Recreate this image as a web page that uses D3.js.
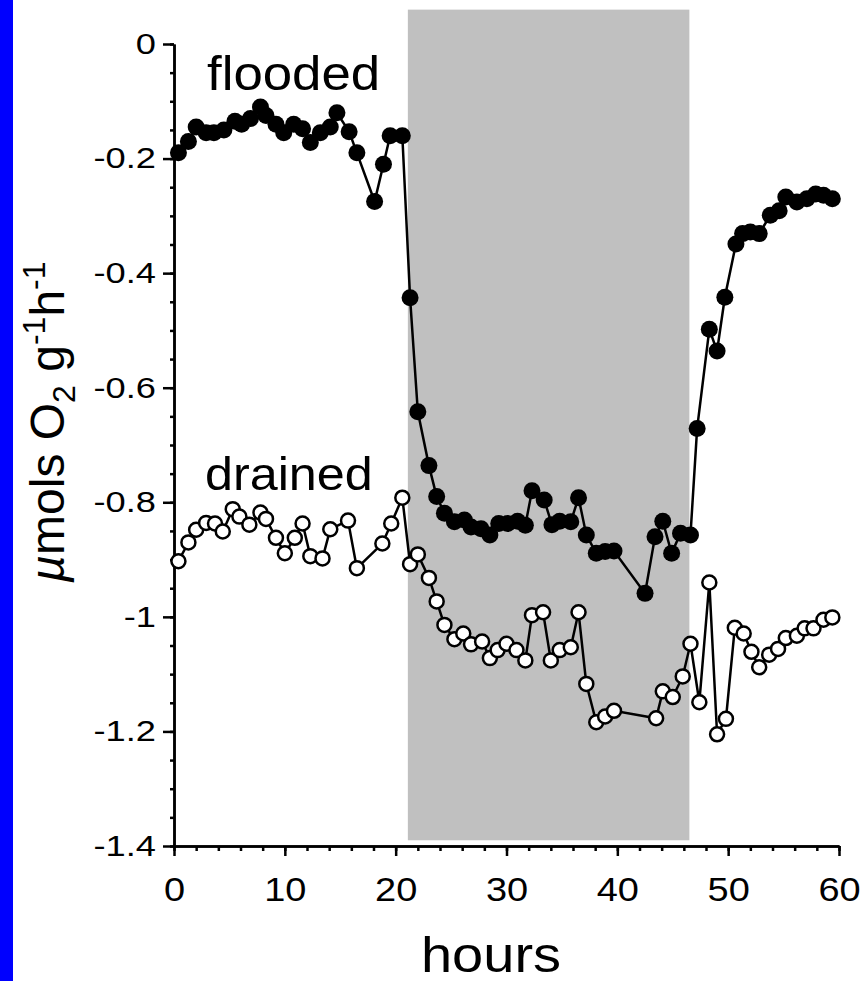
<!DOCTYPE html>
<html>
<head>
<meta charset="utf-8">
<script src="https://cdn.jsdelivr.net/npm/d3@7"></script>
<style>
  body { margin: 0; background: #fff; }
  text { font-family: 'Liberation Sans', Arial, sans-serif; fill: #000; }
</style>
</head>
<body>
<script>
// flooded soil: hours and O2 uptake
let floodedHours = [0.4, 1.3, 2.0, 2.9, 3.6, 4.5, 5.5, 6.1, 6.9, 7.8, 8.3, 9.2, 9.9, 10.8, 11.6,
  12.3, 13.2, 14.1, 14.7, 15.8, 16.5, 18.1, 18.9, 19.5, 20.6, 21.3, 22.0, 23.0, 23.7, 24.4,
  25.3, 26.2, 26.8, 27.7, 28.5, 29.3, 30.1, 31.0, 31.7, 32.3, 33.4, 34.1, 34.8, 35.8, 36.5,
  37.2, 38.1, 38.9, 39.7, 42.5, 43.4, 44.1, 44.9, 45.7, 46.6, 47.2, 48.3, 49.0, 49.7, 50.7,
  51.3, 52.0, 52.8, 53.8, 54.6, 55.2, 56.2, 57.1, 57.9, 58.6, 59.4];
let floodedRate = [-0.19, -0.17, -0.145, -0.155, -0.155, -0.15, -0.135, -0.14, -0.13, -0.11, -0.125, -0.14, -0.155, -0.14, -0.148,
  -0.172, -0.155, -0.145, -0.12, -0.153, -0.19, -0.275, -0.21, -0.16, -0.16, -0.443, -0.642, -0.736, -0.79, -0.819,
  -0.834, -0.831, -0.843, -0.846, -0.857, -0.837, -0.837, -0.833, -0.84, -0.78, -0.796, -0.839, -0.833, -0.834, -0.792,
  -0.857, -0.889, -0.886, -0.885, -0.959, -0.86, -0.833, -0.889, -0.854, -0.857, -0.671, -0.498, -0.536, -0.442, -0.349,
  -0.331, -0.328, -0.331, -0.299, -0.291, -0.267, -0.276, -0.27, -0.262, -0.264, -0.27];

// drained soil
let drainedHours = [0.4, 1.3, 2.0, 2.9, 3.7, 4.4, 5.3, 5.9, 6.8, 7.8, 8.3, 9.2, 10.0, 10.9, 11.6,
  12.3, 13.4, 14.1, 15.7, 16.5, 18.8, 19.6, 20.6, 21.3, 22.0, 23.0, 23.7, 24.4, 25.3, 26.1,
  26.8, 27.8, 28.5, 29.2, 30.0, 30.9, 31.7, 32.3, 33.3, 34.0, 34.8, 35.8, 36.5, 37.2, 38.1,
  38.9, 39.7, 43.5, 44.1, 45.0, 45.9, 46.6, 47.4, 48.3, 49.0, 49.8, 50.6, 51.4, 52.1, 52.8,
  53.7, 54.5, 55.2, 56.2, 56.9, 57.7, 58.6, 59.4];
let drainedRate = [-0.903, -0.87, -0.848, -0.836, -0.837, -0.851, -0.812, -0.825, -0.839, -0.818, -0.829, -0.862, -0.889, -0.862, -0.837,
  -0.894, -0.898, -0.847, -0.832, -0.915, -0.872, -0.837, -0.792, -0.908, -0.891, -0.932, -0.973, -1.014, -1.039, -1.029,
  -1.048, -1.043, -1.072, -1.058, -1.047, -1.058, -1.076, -0.997, -0.992, -1.076, -1.058, -1.053, -0.992, -1.117, -1.184,
  -1.174, -1.164, -1.177, -1.13, -1.14, -1.104, -1.047, -1.149, -0.94, -1.205, -1.178, -1.019, -1.029, -1.061, -1.088,
  -1.066, -1.056, -1.037, -1.033, -1.02, -1.02, -1.005, -1.001];

// shaded (flooding) period, hours
let shadeHours = [21.1, 46.5];

let xTicks = [0, 10, 20, 30, 40, 50, 60];
let yTicks = [0, -0.2, -0.4, -0.6, -0.8, -1, -1.2, -1.4];

let width = 864, height = 981;
let svg = d3.select('body').append('svg').attr('width', width).attr('height', height);

let x = d3.scaleLinear().domain([0, 60]).range([174, 839]);
let y = d3.scaleLinear().domain([0, -1.4]).range([44, 846]);

svg.append('rect').attr('width', width).attr('height', height).attr('fill', '#fff');
svg.append('rect').attr('x', 0).attr('y', 0).attr('width', 13).attr('height', height).attr('fill', '#0000fe');

// shaded block
svg.append('rect')
  .attr('x', x(shadeHours[0]))
  .attr('width', x(shadeHours[1]) - x(shadeHours[0]))
  .attr('y', y(0.06))
  .attr('height', y(-1.39) - y(0.06))
  .attr('fill', '#c0c0c0');

// axes
let yMinor = svg.append('g').attr('transform', 'translate(174,0)')
  .call(d3.axisLeft(y).tickValues(d3.range(0, -1.401, -0.05)).tickSize(4).tickSizeOuter(0).tickFormat(''));
let yAxis = svg.append('g').attr('transform', 'translate(174,0)')
  .call(d3.axisLeft(y).tickValues(yTicks).tickSize(11).tickSizeOuter(0).tickPadding(3.5).tickFormat(d => String(d)));
let xMinor = svg.append('g').attr('transform', 'translate(0,846)')
  .call(d3.axisBottom(x).tickValues(d3.range(0, 60.01, 2)).tickSize(5).tickSizeOuter(0).tickFormat(''));
let xAxis = svg.append('g').attr('transform', 'translate(0,846)')
  .call(d3.axisBottom(x).tickValues(xTicks).tickSize(10).tickSizeOuter(0).tickPadding(22).tickFormat(d => String(d)));

svg.selectAll('.domain, .tick line').attr('stroke', '#000').attr('stroke-width', 2.5);
yAxis.selectAll('text')
  .attr('font-size', '29px')
  .attr('font-family', "'Liberation Sans', Arial, sans-serif")
  .attr('transform', 'scale(1.25,1)');
xAxis.selectAll('text')
  .attr('font-size', '33px')
  .attr('font-family', "'Liberation Sans', Arial, sans-serif")
  .attr('transform', 'scale(1.15,1)');

// lines + markers
let flooded = d3.zip(floodedHours, floodedRate);
let drained = d3.zip(drainedHours, drainedRate);
let line = d3.line().x(d => x(d[0])).y(d => y(d[1]));

svg.append('path').datum(drained).attr('d', line)
  .attr('fill', 'none').attr('stroke', '#000').attr('stroke-width', 2.5);
svg.append('path').datum(flooded).attr('d', line)
  .attr('fill', 'none').attr('stroke', '#000').attr('stroke-width', 2.5);

svg.append('g').selectAll('circle').data(drained).enter().append('circle')
  .attr('cx', d => x(d[0])).attr('cy', d => y(d[1])).attr('r', 7)
  .attr('fill', '#fff').attr('stroke', '#000').attr('stroke-width', 2.5);
svg.append('g').selectAll('circle').data(flooded).enter().append('circle')
  .attr('cx', d => x(d[0])).attr('cy', d => y(d[1])).attr('r', 8.5)
  .attr('fill', '#000');

// series labels
svg.append('text').attr('transform', 'translate(207,90) scale(1.1,1)')
  .attr('font-size', '48px').text('flooded');
svg.append('text').attr('transform', 'translate(205,490) scale(1.07,1)')
  .attr('font-size', '47px').text('drained');

// axis titles
svg.append('text').attr('transform', 'translate(491,972) scale(1.12,1)').attr('text-anchor', 'middle')
  .attr('font-size', '50px').text('hours');

let yTitle = svg.append('text').attr('transform', 'translate(64,422) rotate(-90)')
  .attr('text-anchor', 'middle').attr('font-size', '48px');
yTitle.append('tspan').attr('font-style', 'italic').text('\u00b5');
yTitle.append('tspan').text('mols O');
yTitle.append('tspan').attr('font-size', '32px').attr('dy', 11).text('2');
yTitle.append('tspan').attr('dy', -11).text(' g');
yTitle.append('tspan').attr('font-size', '32px').attr('dy', -19).text('-1');
yTitle.append('tspan').attr('dy', 19).text('h');
yTitle.append('tspan').attr('font-size', '32px').attr('dy', -19).text('-1');
</script>
</body>
</html>
